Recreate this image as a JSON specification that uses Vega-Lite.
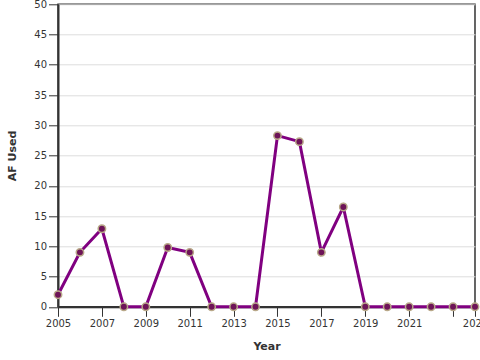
{
  "$schema": "https://vega.github.io/schema/vega-lite/v6.json",
  "width": 417,
  "height": 302.5,
  "autosize": {"type": "none"},
  "padding": {"left": 58, "top": 4.3, "right": 5, "bottom": 53},
  "background": "white",
  "config": {
    "view": {"stroke": "#333333", "strokeWidth": 1.5},
    "axis": {"labelColor": "#333333", "titleColor": "#333333", "domainColor": "#333333", "tickColor": "#333333", "domainWidth": 2, "tickSize": 9.5, "labelFontSize": 10, "titleFontSize": 11, "labelFont": "DejaVu Sans", "titleFont": "DejaVu Sans"}
  },
  "data": {
    "values": [
      {"Year": 2005, "AF": 2.0},
      {"Year": 2006, "AF": 9.0},
      {"Year": 2007, "AF": 12.9},
      {"Year": 2008, "AF": 0},
      {"Year": 2009, "AF": 0},
      {"Year": 2010, "AF": 9.8},
      {"Year": 2011, "AF": 9.0},
      {"Year": 2012, "AF": 0},
      {"Year": 2013, "AF": 0},
      {"Year": 2014, "AF": 0},
      {"Year": 2015, "AF": 28.3},
      {"Year": 2016, "AF": 27.3},
      {"Year": 2017, "AF": 9.0},
      {"Year": 2018, "AF": 16.5},
      {"Year": 2019, "AF": 0},
      {"Year": 2020, "AF": 0},
      {"Year": 2021, "AF": 0},
      {"Year": 2022, "AF": 0},
      {"Year": 2023, "AF": 0},
      {"Year": 2024, "AF": 0}
    ]
  },
  "encoding": {
    "x": {
      "field": "Year",
      "type": "quantitative",
      "scale": {"domain": [2005, 2024], "nice": false, "zero": false},
      "axis": {
        "title": "Year",
        "grid": false,
        "values": [2005, 2007, 2009, 2011, 2013, 2015, 2017, 2019, 2021, 2023, 2024],
        "format": "d",
        "labelOverlap": false,
        "labelFlush": false,
        "labelExpr": "datum.value == 2023 ? '' : datum.label",
        "titlePadding": 12
      }
    },
    "y": {
      "field": "AF",
      "type": "quantitative",
      "scale": {"domain": [0, 50], "nice": false},
      "axis": {
        "title": "AF Used",
        "values": [0, 5, 10, 15, 20, 25, 30, 35, 40, 45, 50],
        "grid": true,
        "gridColor": "#dddddd",
        "labelFlush": false,
        "titlePadding": 16
      }
    }
  },
  "layer": [
    {
      "mark": {"type": "line", "color": "#800080", "strokeWidth": 3}
    },
    {
      "mark": {"type": "point", "filled": true, "fill": "#6e1458", "stroke": "#b8a888", "strokeWidth": 1.5, "size": 55, "opacity": 1}
    }
  ]
}
